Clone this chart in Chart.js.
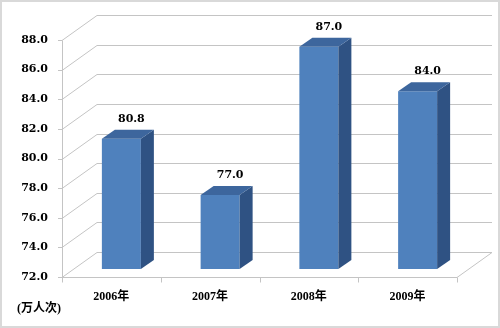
<!DOCTYPE html>
<html>
<head>
<meta charset="utf-8">
<script src="https://cdn.jsdelivr.net/npm/chart.js@4.4.0/dist/chart.umd.min.js"></script>
<style>
  body { margin: 0; background: #fff; }
  #wrap { width: 500px; height: 328px; }
</style>
</head>
<body>
<div id="wrap"><canvas id="chart" width="500" height="328"></canvas></div>
<script>
// data
const years = ['2006年', '2007年', '2008年', '2009年'];
const visitors = [80.8, 77.0, 87.0, 84.0];
const unitLabel = '(万人次)';
const yMin = 72, yMax = 88, yStep = 2;

// 3D look: bars sit half way into the box
const frontShift = { x: -10, y: 8 };   // from bar plane to front of box
const boxDepth = { x: 35, y: -25 };    // front of box to back wall
const barDepth = { x: 13, y: -9 };

const numFont = { family: "'DejaVu Serif', 'Noto Sans CJK SC', serif", size: 11, weight: 'bold' };
const gridColor = '#c4c4c4';

const box3d = {
    id: 'box3d',
    beforeDatasetsDraw(chart) {
        const ctx = chart.ctx;
        const ys = chart.scales.y;
        const left = chart.chartArea.left + frontShift.x;
        const right = chart.chartArea.right + frontShift.x;
        ctx.save();
        ctx.strokeStyle = gridColor;
        ctx.lineWidth = 1;
        ctx.beginPath();
        for (let v = yMin; v <= yMax; v += yStep) {
            const y = Math.round(ys.getPixelForValue(v) + frontShift.y) + 0.5;
            // tick + left wall + back wall
            ctx.moveTo(left - 4, y);
            ctx.lineTo(left, y);
            ctx.lineTo(left + boxDepth.x, y + boxDepth.y);
            ctx.lineTo(right + boxDepth.x, y + boxDepth.y);
        }
        const yTop = Math.round(ys.getPixelForValue(yMax) + frontShift.y) + 0.5;
        const yBot = Math.round(ys.getPixelForValue(yMin) + frontShift.y) + 0.5;
        ctx.moveTo(left + 0.5, yTop);
        ctx.lineTo(left + 0.5, yBot);
        // floor
        ctx.moveTo(left, yBot);
        ctx.lineTo(right, yBot);
        ctx.lineTo(right + boxDepth.x, yBot + boxDepth.y);
        for (let i = 0; i <= years.length; i++) {
            const x = Math.round(left + (right - left) * i / years.length) + 0.5;
            ctx.moveTo(x, yBot);
            ctx.lineTo(x, yBot + 5);
        }
        ctx.stroke();
        ctx.restore();
    },
    afterDatasetsDraw(chart) {
        const ctx = chart.ctx;
        const meta = chart.getDatasetMeta(0);
        ctx.save();
        meta.data.forEach((bar, i) => {
            const p = bar.getProps(['x', 'y', 'base', 'width'], true);
            const l = p.x - p.width / 2, r = p.x + p.width / 2;
            const base = Math.min(p.base, chart.chartArea.bottom);
            // side face
            ctx.fillStyle = '#2f5283';
            ctx.beginPath();
            ctx.moveTo(r, p.y);
            ctx.lineTo(r + barDepth.x, p.y + barDepth.y);
            ctx.lineTo(r + barDepth.x, base + barDepth.y);
            ctx.lineTo(r, base);
            ctx.closePath();
            ctx.fill();
            // top face
            ctx.fillStyle = '#3d669d';
            ctx.beginPath();
            ctx.moveTo(l, p.y);
            ctx.lineTo(l + barDepth.x, p.y + barDepth.y);
            ctx.lineTo(r + barDepth.x, p.y + barDepth.y);
            ctx.lineTo(r, p.y);
            ctx.closePath();
            ctx.fill();
            // value label
            ctx.fillStyle = '#000';
            ctx.font = `${numFont.weight} ${numFont.size}px ${numFont.family}`;
            ctx.textAlign = 'center';
            ctx.textBaseline = 'middle';
            ctx.fillText(visitors[i].toFixed(1), p.x + 10, p.y - 20);
        });
        // unit text
        ctx.font = `bold 12px 'Liberation Serif', 'Noto Sans CJK SC', serif`;
        ctx.textAlign = 'left';
        ctx.fillText(unitLabel, 17, 309);
        // outer frame
        ctx.strokeStyle = '#d9d9d9';
        ctx.lineWidth = 2;
        ctx.strokeRect(1, 1, 498, 326);
        ctx.restore();
    }
};

new Chart(document.getElementById('chart'), {
    type: 'bar',
    data: {
        labels: years,
        datasets: [{
            data: visitors,
            backgroundColor: '#4f81bd',
            borderWidth: 0,
            categoryPercentage: 1,
            barPercentage: 0.395
        }]
    },
    options: {
        responsive: false,
        animation: false,
        layout: { padding: { top: 32, right: 33, left: 0, bottom: 0 } },
        plugins: { legend: { display: false }, tooltip: { enabled: false } },
        scales: {
            x: {
                grid: { display: false, drawTicks: false },
                border: { display: false },
                ticks: {
                    color: '#000',
                    font: { family: "'Liberation Serif', 'Noto Sans CJK SC', serif", size: 12, weight: 'bold' },
                    padding: 21,
                    labelOffset: frontShift.x,
                    maxRotation: 0
                },
                afterFit: (s) => { s.height = 59; }
            },
            y: {
                min: yMin,
                max: yMax,
                grid: { display: false, drawTicks: false },
                border: { display: false },
                ticks: {
                    stepSize: yStep,
                    color: '#000',
                    font: numFont,
                    padding: 24,
                    labelOffset: frontShift.y,
                    callback: (v) => Number(v).toFixed(1)
                },
                afterFit: (s) => { s.width = 72; }
            }
        }
    },
    plugins: [box3d]
});
</script>
</body>
</html>
